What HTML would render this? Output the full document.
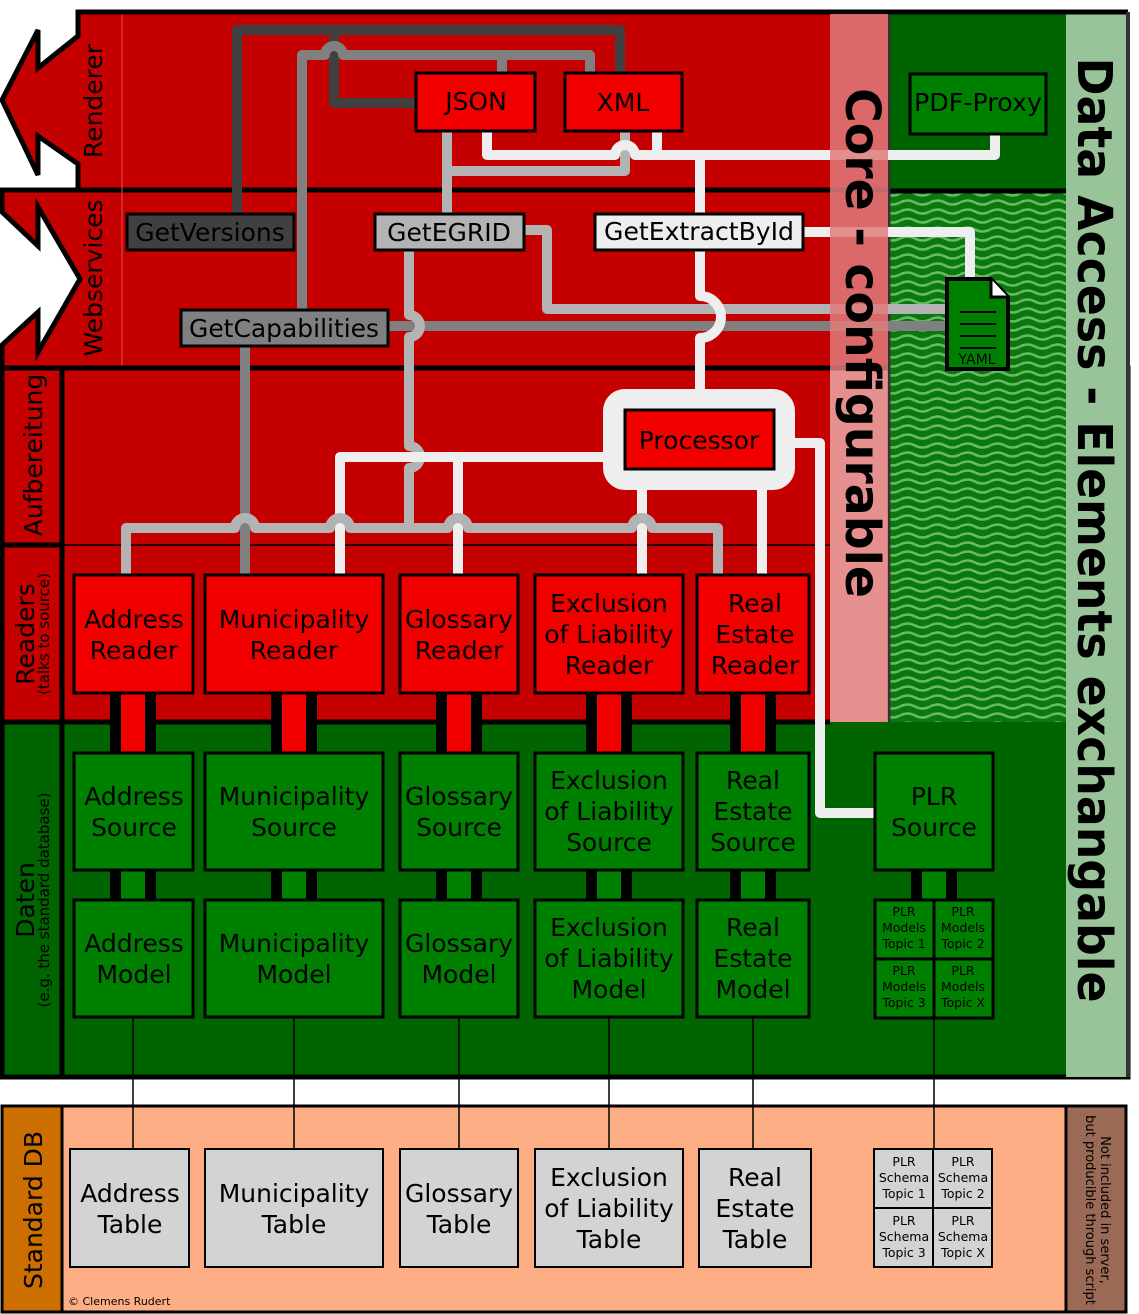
<!DOCTYPE html>
<html><head><meta charset="utf-8"><style>
html,body{margin:0;padding:0;background:#fff;}
svg{display:block;font-family:"DejaVu Sans","Liberation Sans",sans-serif;}
</style></head><body>
<svg width="1139" height="1314" viewBox="0 0 1139 1314" xmlns="http://www.w3.org/2000/svg">
<defs>
<pattern id="wave" width="30" height="9" patternUnits="userSpaceOnUse">
<rect width="30" height="9" fill="#0a780a"/>
<path d="M0,4.5 Q7.5,0.5 15,4.5 T30,4.5" fill="none" stroke="#6ab86a" stroke-width="2.6"/>
</pattern>
</defs>

<polygon points="78,12 1066,12 1066,190 78,190 78,164 38,136 38,175 2,100 38,30 38,68 78,36" fill="#c40000" stroke="#000" stroke-width="5"/>
<polygon points="2,190 1066,190 1066,368 2,368 2,345 38,312 38,352 80,279 38,207 38,246 2,212" fill="#c40000" stroke="#000" stroke-width="5"/>
<line x1="122" y1="14" x2="122" y2="366" stroke="#e05050" stroke-width="1"/>
<rect x="2" y="368" width="828" height="354" fill="#c40000"/>
<rect x="2" y="722" width="1064" height="355" fill="#006400"/>
<line x1="2" y1="368" x2="830" y2="368" stroke="#000" stroke-width="5"/>
<line x1="2" y1="545" x2="62" y2="545" stroke="#000" stroke-width="5"/>
<line x1="62" y1="545" x2="830" y2="545" stroke="#000" stroke-width="1.5"/>
<line x1="2" y1="722" x2="830" y2="722" stroke="#000" stroke-width="5"/>
<line x1="62" y1="368" x2="62" y2="1077" stroke="#000" stroke-width="5"/>
<rect x="2" y="368" width="1126" height="709" fill="none" stroke="#000" stroke-width="5"/>
<rect x="890" y="14" width="176" height="176" fill="#006400"/>
<rect x="890" y="193" width="176" height="529" fill="url(#wave)"/>
<line x1="890" y1="191" x2="1066" y2="191" stroke="#000" stroke-width="5"/>
<rect x="1066" y="14" width="61" height="1063" fill="#99c499"/>
<line x1="889" y1="12" x2="889" y2="722" stroke="#333" stroke-width="3"/>
<line x1="78" y1="12" x2="1128" y2="12" stroke="#000" stroke-width="5"/>
<line x1="1128" y1="12" x2="1128" y2="1077" stroke="#333" stroke-width="4"/>

<text transform="translate(102,101) rotate(-90)" font-size="25" text-anchor="middle">Renderer</text>
<text transform="translate(102,278) rotate(-90)" font-size="25" text-anchor="middle">Webservices</text>
<text transform="translate(42,455) rotate(-90)" font-size="25" text-anchor="middle">Aufbereitung</text>
<text transform="translate(34,634) rotate(-90)" font-size="25" text-anchor="middle">Readers</text>
<text transform="translate(49,634) rotate(-90)" font-size="15" text-anchor="middle">(talks to source)</text>
<text transform="translate(34,900) rotate(-90)" font-size="25" text-anchor="middle">Daten</text>
<text transform="translate(49,900) rotate(-90)" font-size="15" text-anchor="middle">(e.g. the standard database)</text>

<g fill="none" stroke-linejoin="round">
<path d="M237,214 V30 H620 V72 M334,30 V103 H416" stroke="#404040" stroke-width="10"/>
<path d="M302,310 V55 H325 a9,9 0 0 1 18,0 H590 V72 M502,55 V72" stroke="#808080" stroke-width="10"/>
<path d="M388,326 H946" stroke="#808080" stroke-width="10"/>
<path d="M245,346 V574" stroke="#808080" stroke-width="10"/>
<path d="M447,214 V131 M447,171 H625 V131" stroke="#b3b3b3" stroke-width="10"/>
<path d="M524,230 H547 V309 H946" stroke="#b3b3b3" stroke-width="10"/>
<path d="M409,250 V315 a11,11 0 0 1 0,22 V446 a11,11 0 0 1 0,22 V528" stroke="#b3b3b3" stroke-width="10"/>
<path d="M487,131 V155 H615 a10,10 0 0 1 20,0 H995 V131 M657,131 V155 M700,155 V214" stroke="#eeeeee" stroke-width="10"/>
<path d="M700,250 V296 a21,21 0 0 1 0,42 V392" stroke="#eeeeee" stroke-width="10"/>
<path d="M803,232 H970 V280" stroke="#eeeeee" stroke-width="10"/>
<path d="M603,457 H340 V574 M458,457 V574 M642,490 V574 M762,490 V574 M795,443 H820 V813 H875" stroke="#eeeeee" stroke-width="10"/>
<path d="M126,574 V528 H235 a10,10 0 0 1 20,0 H330 a10,10 0 0 1 20,0 H448 a10,10 0 0 1 20,0 H632 a10,10 0 0 1 20,0 H718 V574" stroke="#b3b3b3" stroke-width="10"/>
</g>

<rect x="830" y="14" width="58" height="708" fill="#e07b7b" fill-opacity="0.85"/>
<text transform="translate(846,343) rotate(90)" font-size="48" font-weight="bold" text-anchor="middle" textLength="510" lengthAdjust="spacingAndGlyphs">Core - configurable</text>
<text transform="translate(1078,530) rotate(90)" font-size="48" font-weight="bold" text-anchor="middle" textLength="945" lengthAdjust="spacingAndGlyphs">Data Access - Elements exchangable</text>

<rect x="603" y="389" width="192" height="101" rx="22" fill="#eeeeee"/>
<g stroke="#000" stroke-width="3">
<rect x="625" y="410" width="149" height="59" fill="#f20000"/>
<rect x="416" y="73" width="119" height="58" fill="#f20000"/>
<rect x="565" y="73" width="117" height="58" fill="#f20000"/>
<rect x="910" y="74" width="136" height="60" fill="#008000"/>
<rect x="127" y="214" width="167" height="36" fill="#404040"/>
<rect x="375" y="214" width="149" height="36" fill="#b3b3b3"/>
<rect x="595" y="214" width="208" height="36" fill="#eeeeee"/>
<rect x="181" y="310" width="207" height="36" fill="#808080"/>
</g>
<g font-size="25" text-anchor="middle">
<text x="699" y="449">Processor</text>
<text x="476" y="110">JSON</text>
<text x="623" y="111">XML</text>
<text x="978" y="111" textLength="128" lengthAdjust="spacingAndGlyphs">PDF-Proxy</text>
<text x="210" y="241">GetVersions</text>
<text x="449" y="241">GetEGRID</text>
<text x="699" y="240" textLength="190" lengthAdjust="spacingAndGlyphs">GetExtractById</text>
<text x="284" y="337" textLength="190" lengthAdjust="spacingAndGlyphs">GetCapabilities</text>
</g>
<path d="M947,279 H991 L1008,297 V369 H947 Z" fill="#008000" stroke="#000" stroke-width="4"/>
<path d="M991,279 V297 H1008" fill="#fff" stroke="#000" stroke-width="3"/>
<g stroke="#000" stroke-width="2"><line x1="960" y1="312" x2="996" y2="312"/><line x1="960" y1="324" x2="996" y2="324"/><line x1="960" y1="336" x2="996" y2="336"/><line x1="960" y1="348" x2="996" y2="348"/></g>
<text x="977" y="364" font-size="14" text-anchor="middle">YAML</text>

<g>
<rect x="110" y="692" width="46" height="62" fill="#000"/><rect x="121" y="692" width="24" height="62" fill="#f20000"/>
<rect x="271" y="692" width="46" height="62" fill="#000"/><rect x="282" y="692" width="24" height="62" fill="#f20000"/>
<rect x="436" y="692" width="46" height="62" fill="#000"/><rect x="447" y="692" width="24" height="62" fill="#f20000"/>
<rect x="586" y="692" width="46" height="62" fill="#000"/><rect x="597" y="692" width="24" height="62" fill="#f20000"/>
<rect x="730" y="692" width="46" height="62" fill="#000"/><rect x="741" y="692" width="24" height="62" fill="#f20000"/>
<rect x="110" y="870" width="46" height="30" fill="#000"/><rect x="121" y="870" width="24" height="30" fill="#008000"/>
<rect x="271" y="870" width="46" height="30" fill="#000"/><rect x="282" y="870" width="24" height="30" fill="#008000"/>
<rect x="436" y="870" width="46" height="30" fill="#000"/><rect x="447" y="870" width="24" height="30" fill="#008000"/>
<rect x="586" y="870" width="46" height="30" fill="#000"/><rect x="597" y="870" width="24" height="30" fill="#008000"/>
<rect x="730" y="870" width="46" height="30" fill="#000"/><rect x="741" y="870" width="24" height="30" fill="#008000"/>
<rect x="911" y="870" width="46" height="30" fill="#000"/><rect x="922" y="870" width="24" height="30" fill="#008000"/>
</g>

<g stroke="#000" stroke-width="1.5">
<line x1="133" y1="1018" x2="133" y2="1150"/><line x1="294" y1="1018" x2="294" y2="1150"/>
<line x1="459" y1="1018" x2="459" y2="1150"/><line x1="609" y1="1018" x2="609" y2="1150"/>
<line x1="753" y1="1018" x2="753" y2="1150"/><line x1="934" y1="1018" x2="934" y2="1150"/>
</g>

<g stroke="#000" stroke-width="3">
<rect x="74" y="575" width="119" height="118" fill="#f20000"/>
<rect x="205" y="575" width="178" height="118" fill="#f20000"/>
<rect x="400" y="575" width="118" height="118" fill="#f20000"/>
<rect x="535" y="575" width="148" height="118" fill="#f20000"/>
<rect x="697" y="575" width="112" height="118" fill="#f20000"/>
<rect x="74" y="753" width="119" height="117" fill="#008000"/>
<rect x="205" y="753" width="178" height="117" fill="#008000"/>
<rect x="400" y="753" width="118" height="117" fill="#008000"/>
<rect x="535" y="753" width="148" height="117" fill="#008000"/>
<rect x="697" y="753" width="112" height="117" fill="#008000"/>
<rect x="875" y="753" width="118" height="117" fill="#008000"/>
<rect x="74" y="900" width="119" height="117" fill="#008000"/>
<rect x="205" y="900" width="178" height="117" fill="#008000"/>
<rect x="400" y="900" width="118" height="117" fill="#008000"/>
<rect x="535" y="900" width="148" height="117" fill="#008000"/>
<rect x="697" y="900" width="112" height="117" fill="#008000"/>
<rect x="875" y="900" width="59" height="59" fill="#008000"/>
<rect x="934" y="900" width="59" height="59" fill="#008000"/>
<rect x="875" y="959" width="59" height="59" fill="#008000"/>
<rect x="934" y="959" width="59" height="59" fill="#008000"/>
</g>
<g font-size="25" text-anchor="middle">
<text x="134" y="628">Address</text><text x="134" y="659">Reader</text>
<text x="294" y="628">Municipality</text><text x="294" y="659">Reader</text>
<text x="459" y="628">Glossary</text><text x="459" y="659">Reader</text>
<text x="609" y="612">Exclusion</text><text x="609" y="643">of Liability</text><text x="609" y="674">Reader</text>
<text x="755" y="612">Real</text><text x="755" y="643">Estate</text><text x="755" y="674">Reader</text>
<text x="134" y="805">Address</text><text x="134" y="836">Source</text>
<text x="294" y="805">Municipality</text><text x="294" y="836">Source</text>
<text x="459" y="805">Glossary</text><text x="459" y="836">Source</text>
<text x="609" y="789">Exclusion</text><text x="609" y="820">of Liability</text><text x="609" y="851">Source</text>
<text x="753" y="789">Real</text><text x="753" y="820">Estate</text><text x="753" y="851">Source</text>
<text x="934" y="805">PLR</text><text x="934" y="836">Source</text>
<text x="134" y="952">Address</text><text x="134" y="983">Model</text>
<text x="294" y="952">Municipality</text><text x="294" y="983">Model</text>
<text x="459" y="952">Glossary</text><text x="459" y="983">Model</text>
<text x="609" y="936">Exclusion</text><text x="609" y="967">of Liability</text><text x="609" y="998">Model</text>
<text x="753" y="936">Real</text><text x="753" y="967">Estate</text><text x="753" y="998">Model</text>
</g>
<g font-size="12.5" text-anchor="middle">
<text x="904" y="916">PLR</text><text x="904" y="932">Models</text><text x="904" y="948">Topic 1</text>
<text x="963" y="916">PLR</text><text x="963" y="932">Models</text><text x="963" y="948">Topic 2</text>
<text x="904" y="975">PLR</text><text x="904" y="991">Models</text><text x="904" y="1007">Topic 3</text>
<text x="963" y="975">PLR</text><text x="963" y="991">Models</text><text x="963" y="1007">Topic X</text>
</g>

<rect x="2" y="1106" width="1124" height="206" fill="#fdae84" stroke="#000" stroke-width="3"/>
<rect x="2" y="1106" width="60" height="206" fill="#cc6f00" stroke="#000" stroke-width="3"/>
<rect x="1066" y="1106" width="60" height="206" fill="#9b6a56" stroke="#000" stroke-width="3"/>
<g stroke="#000" stroke-width="1.5">
<line x1="133" y1="1106" x2="133" y2="1150"/><line x1="294" y1="1106" x2="294" y2="1150"/>
<line x1="459" y1="1106" x2="459" y2="1150"/><line x1="609" y1="1106" x2="609" y2="1150"/>
<line x1="753" y1="1106" x2="753" y2="1150"/><line x1="934" y1="1106" x2="934" y2="1150"/>
</g>
<g stroke="#000" stroke-width="2" fill="#d3d3d3">
<rect x="70" y="1149" width="119" height="118"/>
<rect x="205" y="1149" width="178" height="118"/>
<rect x="400" y="1149" width="118" height="118"/>
<rect x="535" y="1149" width="148" height="118"/>
<rect x="699" y="1149" width="112" height="118"/>
<rect x="874" y="1149" width="59" height="59"/><rect x="933" y="1149" width="59" height="59"/>
<rect x="874" y="1208" width="59" height="59"/><rect x="933" y="1208" width="59" height="59"/>
</g>
<g font-size="25" text-anchor="middle">
<text x="130" y="1202">Address</text><text x="130" y="1233">Table</text>
<text x="294" y="1202">Municipality</text><text x="294" y="1233">Table</text>
<text x="459" y="1202">Glossary</text><text x="459" y="1233">Table</text>
<text x="609" y="1186">Exclusion</text><text x="609" y="1217">of Liability</text><text x="609" y="1248">Table</text>
<text x="755" y="1186">Real</text><text x="755" y="1217">Estate</text><text x="755" y="1248">Table</text>
</g>
<g font-size="12.5" text-anchor="middle">
<text x="904" y="1166">PLR</text><text x="904" y="1182">Schema</text><text x="904" y="1198">Topic 1</text>
<text x="963" y="1166">PLR</text><text x="963" y="1182">Schema</text><text x="963" y="1198">Topic 2</text>
<text x="904" y="1225">PLR</text><text x="904" y="1241">Schema</text><text x="904" y="1257">Topic 3</text>
<text x="963" y="1225">PLR</text><text x="963" y="1241">Schema</text><text x="963" y="1257">Topic X</text>
</g>
<text transform="translate(42,1210) rotate(-90)" font-size="25" text-anchor="middle">Standard DB</text>
<text transform="translate(1101,1210) rotate(90)" font-size="13" text-anchor="middle">Not included in server,</text>
<text transform="translate(1086,1210) rotate(90)" font-size="13" text-anchor="middle">but producible through script</text>
<text x="68" y="1305" font-size="11">© Clemens Rudert</text>
</svg>
</body></html>
